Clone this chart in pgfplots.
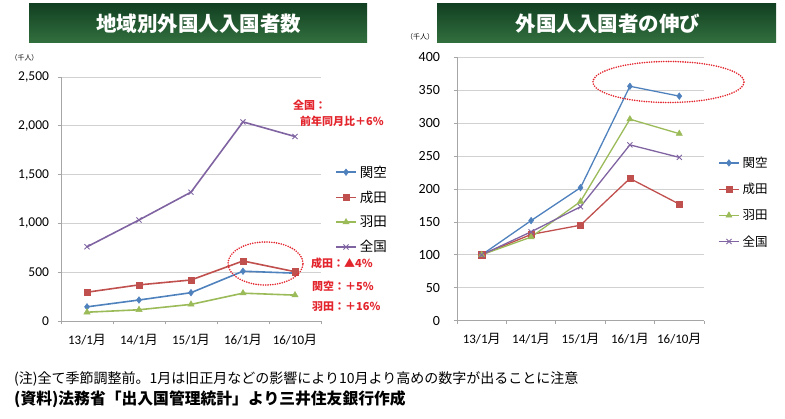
\documentclass[border=0pt]{standalone}
\usepackage{pgfplots}
\pgfplotsset{compat=1.18}
\usepackage{fontspec}
\setmainfont{Carlito}
\newfontfamily\jp{Noto Sans CJK JP}
\newcommand{\tsuki}{{\jp 月}}
\definecolor{cKansai}{HTML}{4F81BD}
\definecolor{cNarita}{HTML}{C0504D}
\definecolor{cHaneda}{HTML}{9BBB59}
\definecolor{cZenkoku}{HTML}{8064A2}
\definecolor{annred}{HTML}{E3262E}
\definecolor{gtop}{RGB}{18,64,34}
\definecolor{gbot}{RGB}{50,112,62}
\pgfplotsset{
  exstyle/.style={
    scale only axis, clip=false,
    xmin=-0.5, xmax=4.5,
    xtick={-0.5,0.5,...,4.5},
    x tick label as interval=true,
    xticklabels={13/1\tsuki,14/1\tsuki,15/1\tsuki,16/1\tsuki,16/10\tsuki},
    xticklabel style={font=\fontsize{13}{14}\selectfont, yshift=-6pt},
    ymin=0,
    ymajorgrids, grid style={draw=black!18, line width=0.8pt},
    axis x line*=bottom, axis y line*=left,
    axis line style={draw=black!35, line width=0.8pt},
    tick align=outside, major tick length=3.5pt,
    tick style={draw=black!35, line width=0.8pt},
    scaled y ticks=false,
    /pgf/number format/assume math mode=true,
    /pgf/number format/1000 sep={,},
    legend cell align=left,
    legend image code/.code={%
      \draw[mark repeat=2,mark phase=2] plot coordinates {(0pt,0pt) (10pt,0pt) (20pt,0pt)};},
  },
  kansai/.style={color=cKansai, line width=1.6pt, mark=diamond*, mark size=3.3pt, mark options={solid, line width=0.5pt}},
  narita/.style={color=cNarita, line width=1.6pt, mark=square*, mark size=3.1pt, mark options={solid, line width=0.5pt}},
  haneda/.style={color=cHaneda, line width=1.6pt, mark=triangle*, mark size=3.6pt, mark options={solid, line width=0.5pt}},
  zenkoku/.style={color=cZenkoku, line width=1.6pt, mark=x, mark size=3.6pt, mark options={solid, line width=0.9pt}},
}
\begin{document}
\begin{tikzpicture}[x=1pt,y=1pt]
\useasboundingbox (0,0) rectangle (785,419);
% titles
\shade[top color=gtop, bottom color=gbot] (29,415) rectangle (367,376);
\node[text=white, font=\jp\bfseries\fontsize{20.5}{22}\selectfont] at (198.5,395.5) {地域別外国人入国者数};
\shade[top color=gtop, bottom color=gbot] (437,415) rectangle (776,376);
\node[text=white, font=\jp\bfseries\fontsize{20.5}{22}\selectfont] at (608,395.5) {外国人入国者の伸び};
% units
\node[font=\jp\fontsize{7}{8}\selectfont] at (24.5,361) {（千人）};
\node[font=\jp\fontsize{7}{8}\selectfont] at (420,382) {（千人）};

% left chart
\begin{axis}[exstyle, at={(61pt,98pt)}, anchor=south west, width=260pt, height=244pt,
  ymax=2500, ytick={0,500,...,2500},
  yticklabel style={font=\fontsize{13.5}{14}\selectfont, xshift=-5pt},
  legend style={at={(1.054,0.645)}, anchor=north west, draw=none, fill=none,
    font=\jp\fontsize{13.5}{14}\selectfont, row sep=8.3pt, inner sep=0pt,
    /tikz/every odd column/.append style={column sep=1pt}},
]
\addplot[kansai] coordinates {(0,145) (1,215) (2,290) (3,510) (4,490)};
\addplot[narita] coordinates {(0,295) (1,370) (2,420) (3,615) (4,505)};
\addplot[haneda] coordinates {(0,90) (1,115) (2,170) (3,285) (4,265)};
\addplot[zenkoku] coordinates {(0,760) (1,1035) (2,1320) (3,2040) (4,1890)};
\legend{関空,成田,羽田,全国}
\end{axis}

% right chart
\begin{axis}[exstyle, at={(457pt,98.3pt)}, anchor=south west, width=247pt, height=263.4pt,
  ymax=400, ytick={0,50,...,400},
  yticklabel style={font=\fontsize{14}{15}\selectfont, xshift=-10pt},
  legend style={at={(1.057,0.63)}, anchor=north west, draw=none, fill=none,
    font=\jp\fontsize{12.5}{13}\selectfont, row sep=10.4pt, inner sep=0pt,
    /tikz/every odd column/.append style={column sep=1pt}},
]
\addplot[kansai, line width=1.3pt] coordinates {(0,100) (1,152) (2,202) (3,356) (4,341)};
\addplot[narita, line width=1.3pt] coordinates {(0,100) (1,131) (2,145) (3,216) (4,177)};
\addplot[haneda, line width=1.3pt] coordinates {(0,100) (1,127) (2,181) (3,306) (4,284)};
\addplot[zenkoku, line width=1.3pt] coordinates {(0,100) (1,135) (2,173) (3,267) (4,248)};
\legend{関空,成田,羽田,全国}
\end{axis}

% dotted ellipses
\draw[annred, line width=1.8pt, line cap=round, dash pattern=on 0pt off 2.4pt] (265.5,155.5) ellipse [x radius=37.5, y radius=21.5];
\draw[annred, line width=1.8pt, line cap=round, dash pattern=on 0pt off 2.4pt] (668.5,337) ellipse [x radius=75.5, y radius=20.5];

% annotations
\begin{scope}[every node/.style={text=annred, font=\jp\bfseries\fontsize{11}{12}\selectfont, anchor=west, inner sep=0pt}]
\node at (293,314) {全国：};
\node at (300,298) {前年同月比＋6\%};
\node at (311,156) {成田：▲4\%};
\node at (312,133) {関空：＋5\%};
\node at (312,112) {羽田：＋16\%};
\end{scope}

% notes
\node[anchor=west, inner sep=0pt, font=\jp\fontsize{14}{15}\selectfont] at (14,40) {(注)全て季節調整前。1月は旧正月などの影響により10月より高めの数字が出ることに注意};
\node[anchor=west, inner sep=0pt, font=\jp\bfseries\fontsize{15.8}{17}\selectfont] at (14,20) {(資料)法務省「出入国管理統計」より三井住友銀行作成};
\end{tikzpicture}
\end{document}
